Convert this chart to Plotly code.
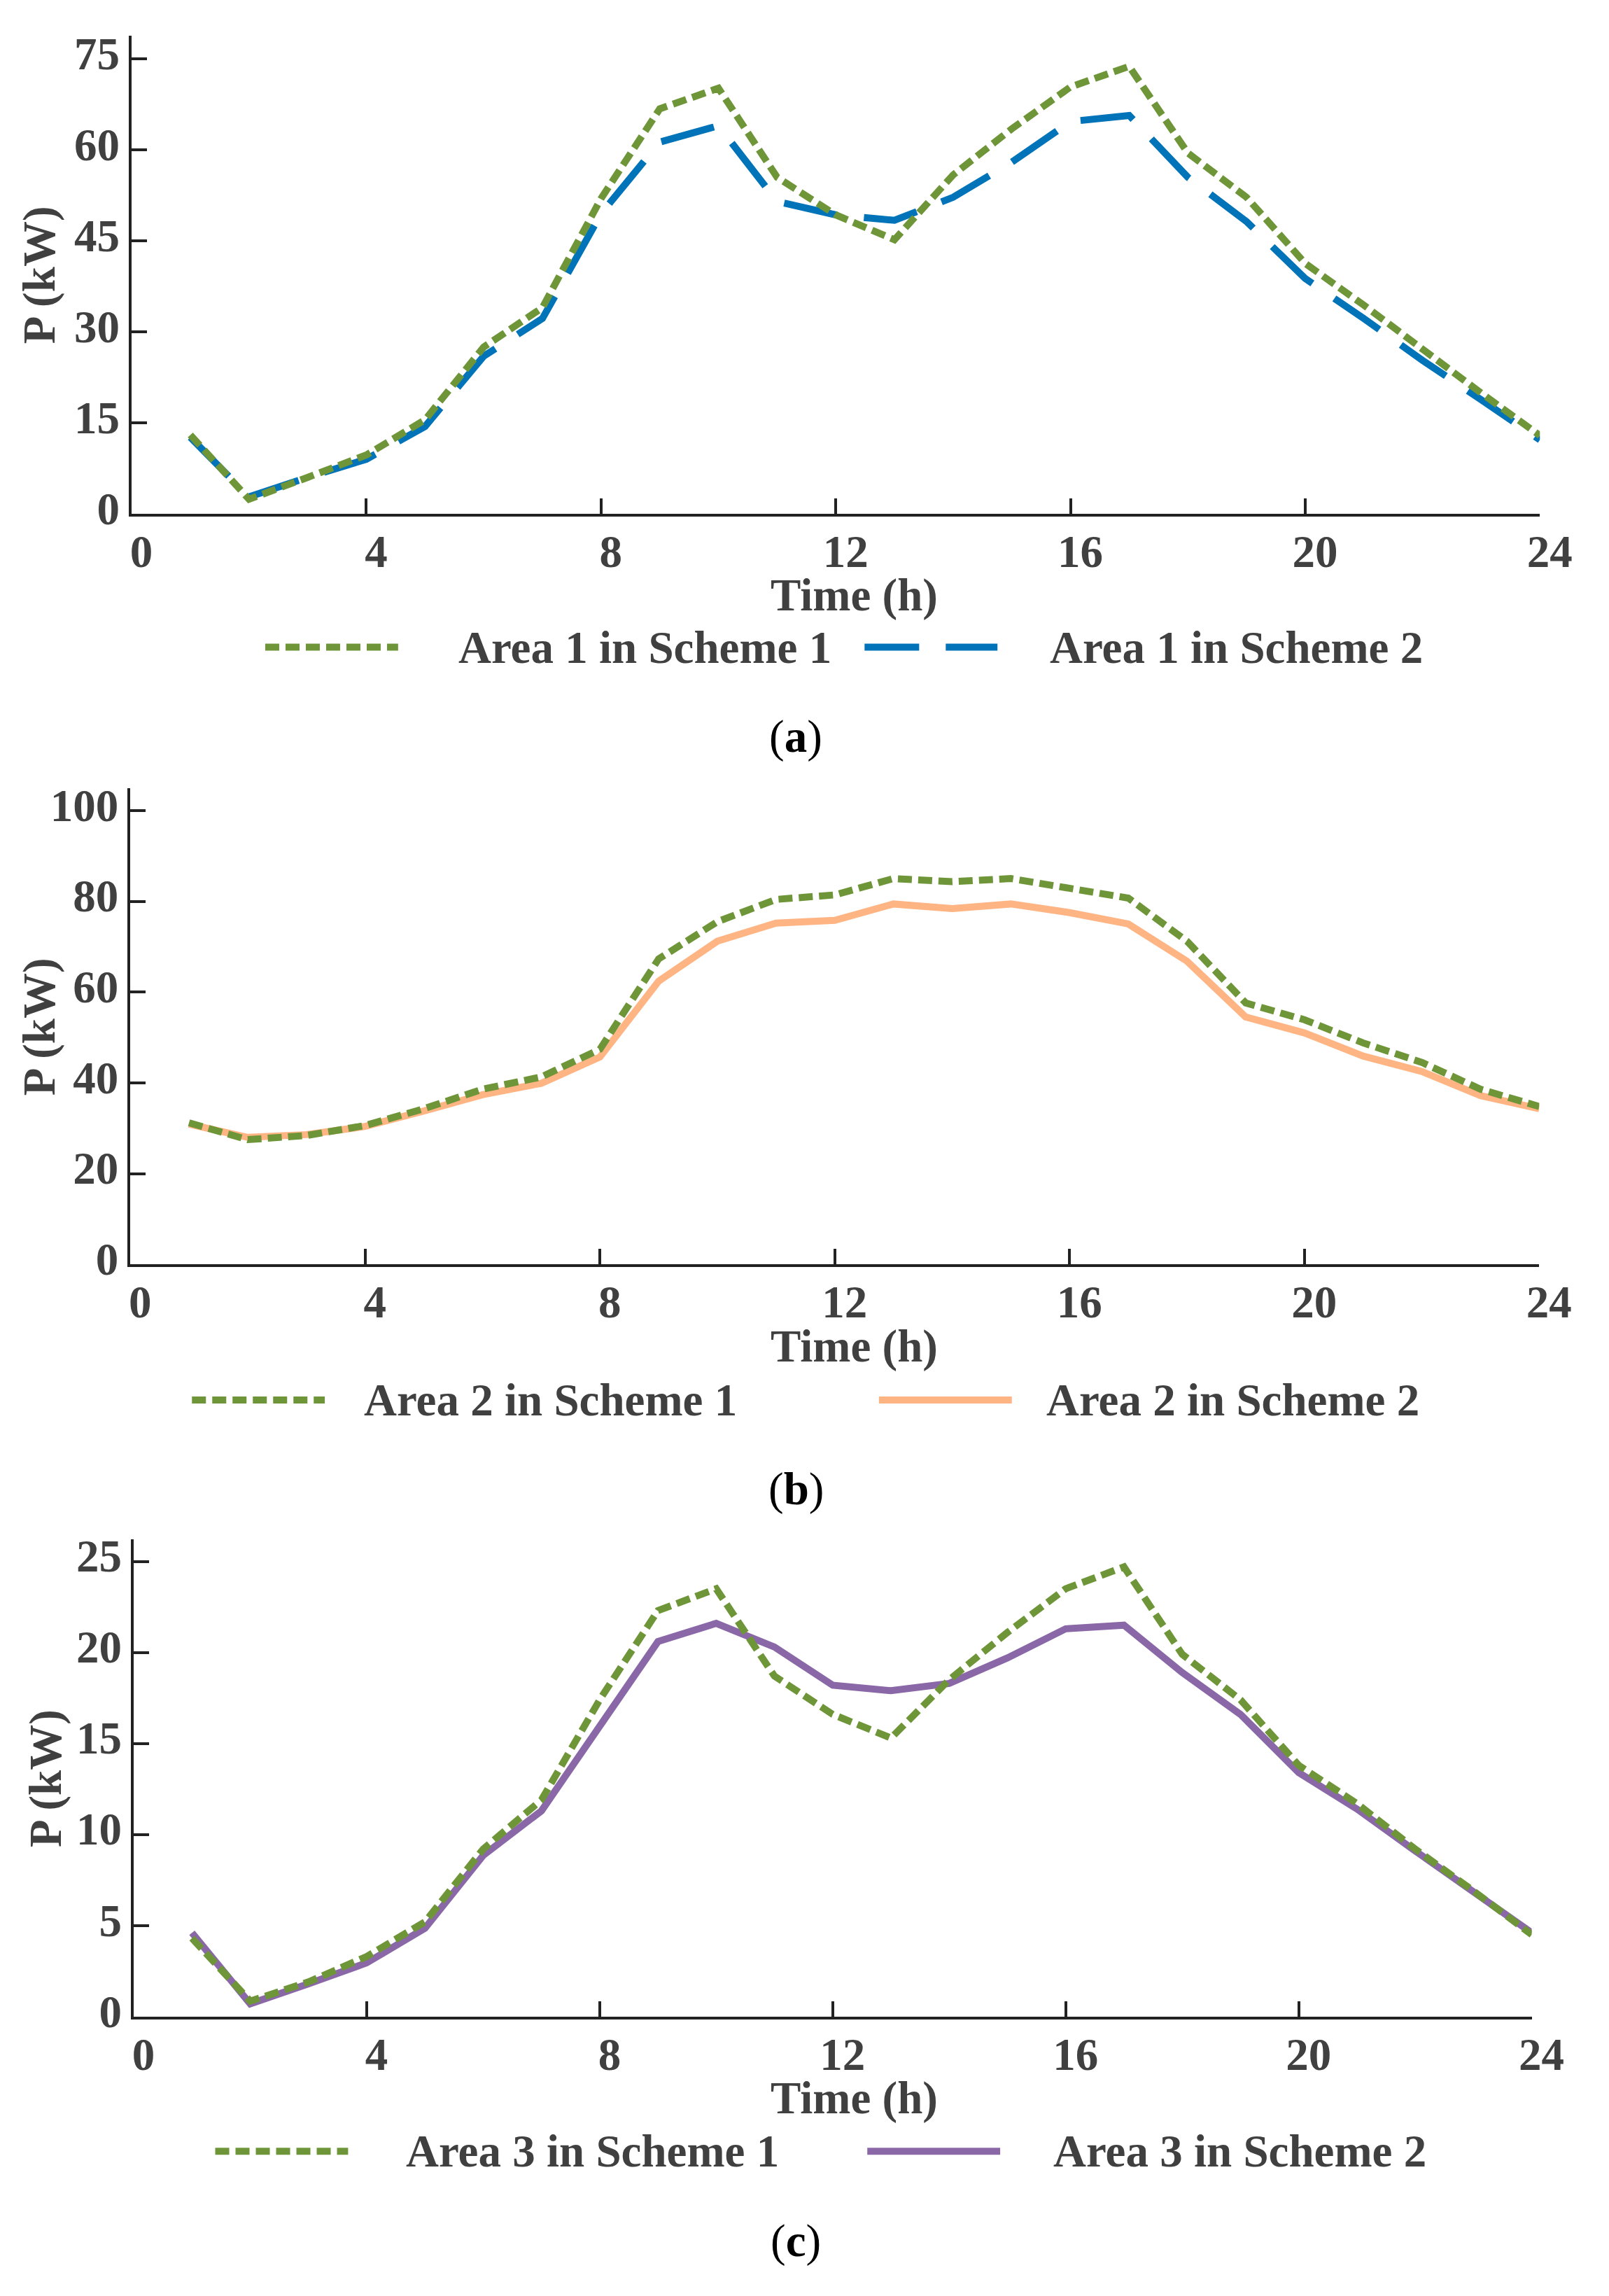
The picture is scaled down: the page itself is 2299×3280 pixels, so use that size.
import plotly.graph_objects as go

W, H = 2299, 3280

# hourly data
hours = list(range(1, 25))
x_ticks = [0, 4, 8, 12, 16, 20, 24]

area1_scheme1 = [13.0, 2.4, 6.0, 9.7, 15.5, 27.5, 34.0, 52.0, 66.8, 70.2, 55.5, 49.3,
                 45.2, 55.9, 63.5, 70.4, 73.8, 59.5, 52.2, 41.3, 34.4, 27.1, 19.9, 12.9]
area1_scheme2 = [12.6, 2.8, 6.0, 9.0, 14.4, 26.0, 32.2, 49.5, 61.3, 64.0, 51.5, 49.3,
                 48.4, 52.2, 58.0, 64.7, 65.7, 55.5, 48.2, 38.8, 32.2, 25.3, 18.8, 12.2]

area2_scheme1 = [31.2, 27.5, 28.4, 30.6, 34.3, 38.6, 41.3, 47.4, 67.3, 75.5, 80.4, 81.4,
                 85.0, 84.3, 85.0, 83.0, 80.7, 71.2, 57.6, 53.9, 48.8, 44.5, 38.6, 34.8]
area2_scheme2 = [30.9, 28.0, 28.6, 30.4, 33.8, 37.4, 39.9, 45.7, 62.4, 71.2, 75.2, 75.8,
                 79.4, 78.4, 79.4, 77.5, 75.0, 66.8, 54.5, 51.0, 45.9, 42.5, 37.2, 34.3]

area3_scheme1 = [4.3, 0.85, 1.9, 3.3, 5.2, 9.2, 11.9, 17.4, 22.3, 23.5, 18.7, 16.6,
                 15.3, 18.5, 21.1, 23.5, 24.7, 19.9, 17.4, 13.8, 11.7, 9.2, 6.9, 4.5]
area3_scheme2 = [4.6, 0.7, 1.8, 2.95, 4.85, 8.85, 11.3, 16.0, 20.6, 21.6, 20.3, 18.2,
                 17.9, 18.3, 19.7, 21.3, 21.5, 18.9, 16.6, 13.4, 11.4, 9.1, 6.8, 4.6]

y_ticks_a = [0, 15, 30, 45, 60, 75]
y_ticks_b = [0, 20, 40, 60, 80, 100]
y_ticks_c = [0, 5, 10, 15, 20, 25]

GREEN  = '#6E9639'
BLUE   = '#0073B9'
ORANGE = '#FFB483'
PURPLE = '#8A68A7'
TEXT   = '#404040'
AXIS   = '#222222'
FONT   = 'Liberation Serif'
FS     = 65
DOTS   = '20px,9px'
SAMPLE = 194   # legend sample length, px


def fx( px ) :
  return px / W

def fy( py ) :
  return 1 - py / H

def bold( color = TEXT ) :
  return dict( family = FONT, size = FS, color = color, weight = 'bold' )


fig = go.Figure( )


def legend_entry( x0, tx, y, name, color, dash ) :
  # matlab-like legend: long line sample, text well to the right
  fig.add_shape( type = 'line', xref = 'paper', yref = 'paper',
    x0 = fx( x0 ), x1 = fx( x0 + SAMPLE ), y0 = fy( y ), y1 = fy( y ),
    line = dict( color = color, width = 10, dash = dash ) )
  fig.add_annotation( x = fx( tx ), y = fy( y ), xref = 'paper', yref = 'paper',
    text = name, showarrow = False, xanchor = 'left', yanchor = 'middle', font = bold( ) )


def add_panel( n, s1, s2, name1, name2, color2, dash2, yticks, ymax,
               left, right, top, zero, leg, ylab_x, tag_y ) :
  sfx = '' if n == 1 else str( n )
  xa, ya = 'x' + sfx, 'y' + sfx

  # scheme 2 underneath, scheme 1 (dotted) on top
  fig.add_trace( go.Scatter(
    x = hours, y = s2, xaxis = xa, yaxis = ya, mode = 'lines', name = name2,
    line = dict( color = color2, width = 10, dash = dash2 ), showlegend = False,
  ) )
  fig.add_trace( go.Scatter(
    x = hours, y = s1, xaxis = xa, yaxis = ya, mode = 'lines', name = name1,
    line = dict( color = GREEN, width = 10, dash = DOTS ), showlegend = False,
  ) )

  common = dict(
    showline = True, linewidth = 4, linecolor = AXIS,
    ticks = 'inside', ticklen = 22, tickwidth = 4, tickcolor = AXIS,
    showgrid = False, zeroline = False, tickfont = bold( ),
  )
  fig.update_layout( {
    'xaxis' + sfx : dict(
      domain = [ fx( left ), fx( right ) ], anchor = ya, range = [ 0, 24 ],
      tickvals = x_ticks, ticklabelstandoff = -6, ticklabelshift = 14, **common ),
    'yaxis' + sfx : dict(
      domain = [ fy( zero ), fy( top ) ], anchor = xa, range = [ 0, ymax ],
      tickvals = yticks, ticklabelshift = -8, **common ),
  } )

  s1x, t1x, s2x, t2x, ly = leg
  legend_entry( s1x, t1x, ly, name1, GREEN, DOTS )
  legend_entry( s2x, t2x, ly, name2, color2, dash2 )

  fig.add_annotation( x = fx( 1237 ), y = fy( zero + 118 ), xref = 'paper', yref = 'paper',
    text = 'Time (h)', showarrow = False, xanchor = 'center', yanchor = 'middle', font = bold( ) )
  fig.add_annotation( x = fx( ylab_x ), y = fy( ( top + zero ) / 2 ), xref = 'paper', yref = 'paper',
    text = 'P (kW)', textangle = -90, showarrow = False, xanchor = 'center', yanchor = 'middle',
    font = bold( ) )
  fig.add_annotation( x = fx( 1152 ), y = fy( tag_y ), xref = 'paper', yref = 'paper',
    text = '(<b>' + 'abc'[ n - 1 ] + '</b>)', showarrow = False, xanchor = 'center', yanchor = 'middle',
    font = dict( family = FONT, size = FS, color = '#000000' ) )


add_panel( 1, area1_scheme1, area1_scheme2, 'Area 1 in Scheme 1', 'Area 1 in Scheme 2',
           BLUE, '78px,38px', y_ticks_a, 78.9,
           182, 2238, 31, 723, ( 377, 657, 1252, 1520, 916 ), 47, 1045 )
add_panel( 2, area2_scheme1, area2_scheme2, 'Area 2 in Scheme 1', 'Area 2 in Scheme 2',
           ORANGE, 'solid', y_ticks_b, 104.9,
           180, 2237, 1120, 1809, ( 270, 519, 1273, 1515, 2005 ), 47, 2134 )
add_panel( 3, area3_scheme1, area3_scheme2, 'Area 3 in Scheme 1', 'Area 3 in Scheme 2',
           PURPLE, 'solid', y_ticks_c, 26.2,
           185, 2226, 2207, 2897, ( 304, 580, 1256, 1526, 3092 ), 56, 3221 )

fig.update_layout(
  width = W, height = H,
  margin = dict( l = 0, r = 0, t = 0, b = 0 ),
  paper_bgcolor = 'white', plot_bgcolor = 'white',
  showlegend = False,
)

fig.write_html( 'out.html' )
